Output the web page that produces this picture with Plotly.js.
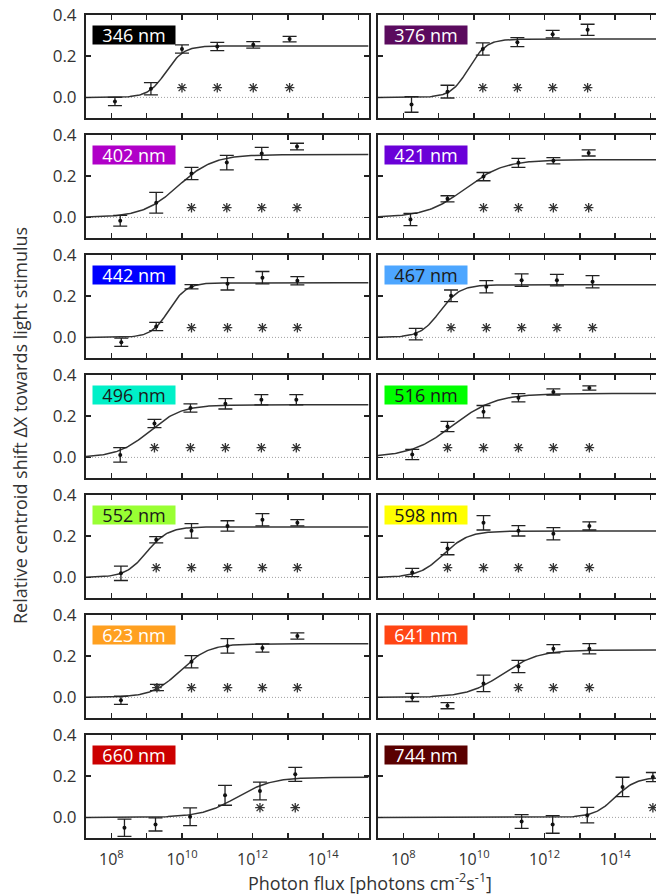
<!DOCTYPE html>
<html><head><meta charset="utf-8">
<script src="https://cdn.plot.ly/plotly-3.0.1.min.js"></script>
<style>
html,body{margin:0;padding:0;overflow:hidden;background:#fff;width:656px;height:895px}
#chart{width:670px;height:895px}
</style>
</head><body><div id="chart"></div>
<script>
// wavelengths (panel order: row-major, left then right)
const wavelengths = [346, 376, 402, 421, 442, 467, 496, 516, 552, 598, 623, 641, 660, 744];

// log10 photon flux of each measured point
const logFlux = [
  [8.10, 9.12, 10.00, 11.00, 12.02, 13.05],
  [8.23, 9.25, 10.25, 11.23, 12.23, 13.22],
  [8.25, 9.27, 10.27, 11.27, 12.26, 13.26],
  [8.20, 9.25, 10.27, 11.26, 12.25, 13.25],
  [8.28, 9.27, 10.27, 11.29, 12.28, 13.27],
  [8.35, 9.35, 10.35, 11.35, 12.35, 13.36],
  [8.25, 9.22, 10.24, 11.23, 12.25, 13.24],
  [8.25, 9.25, 10.27, 11.26, 12.25, 13.27],
  [8.27, 9.27, 10.27, 11.29, 12.28, 13.27],
  [8.25, 9.25, 10.27, 11.26, 12.25, 13.27],
  [8.27, 9.29, 10.27, 11.29, 12.28, 13.27],
  [8.25, 9.25, 10.27, 11.26, 12.25, 13.27],
  [8.37, 9.25, 10.23, 11.22, 12.21, 13.21],
  [11.35, 12.23, 13.21, 14.21, 15.07]
];
// relative centroid shift (mean)
const shift = [
  [-0.020, 0.042, 0.235, 0.247, 0.255, 0.283],
  [-0.034, 0.028, 0.235, 0.268, 0.307, 0.328],
  [-0.016, 0.071, 0.213, 0.266, 0.310, 0.344],
  [-0.010, 0.090, 0.198, 0.265, 0.275, 0.313],
  [-0.024, 0.053, 0.246, 0.260, 0.290, 0.275],
  [0.016, 0.202, 0.246, 0.278, 0.278, 0.270],
  [0.012, 0.165, 0.240, 0.260, 0.280, 0.280],
  [0.014, 0.150, 0.222, 0.290, 0.318, 0.337],
  [0.020, 0.183, 0.226, 0.250, 0.280, 0.265],
  [0.024, 0.140, 0.265, 0.226, 0.212, 0.250],
  [-0.014, 0.048, 0.173, 0.250, 0.240, 0.298],
  [0.000, -0.040, 0.068, 0.150, 0.236, 0.236],
  [-0.050, -0.034, 0.003, 0.107, 0.128, 0.209],
  [-0.020, -0.034, 0.011, 0.148, 0.196]
];
// error (half length of the error bar)
const sem = [
  [0.020, 0.030, 0.020, 0.020, 0.016, 0.013],
  [0.038, 0.031, 0.030, 0.022, 0.018, 0.027],
  [0.026, 0.050, 0.030, 0.035, 0.030, 0.016],
  [0.030, 0.015, 0.020, 0.022, 0.015, 0.015],
  [0.020, 0.020, 0.010, 0.030, 0.030, 0.020],
  [0.028, 0.028, 0.030, 0.030, 0.028, 0.030],
  [0.035, 0.020, 0.020, 0.025, 0.025, 0.025],
  [0.025, 0.025, 0.030, 0.020, 0.015, 0.010],
  [0.035, 0.015, 0.035, 0.025, 0.030, 0.015],
  [0.020, 0.030, 0.035, 0.025, 0.030, 0.020],
  [0.020, 0.015, 0.030, 0.035, 0.020, 0.015],
  [0.020, 0.015, 0.040, 0.030, 0.020, 0.025],
  [0.042, 0.032, 0.043, 0.048, 0.043, 0.034],
  [0.033, 0.043, 0.038, 0.047, 0.022]
];
// indices of points marked significant (*)
const signif = [
  [2,3,4,5],[2,3,4,5],[2,3,4,5],[2,3,4,5],[2,3,4,5],[1,2,3,4,5],[1,2,3,4,5],
  [1,2,3,4,5],[1,2,3,4,5],[1,2,3,4,5],[1,2,3,4,5],[3,4,5],[4,5],[4]
];
const starLevel = 0.047;
// fitted sigmoid parameters (plateau, log10 midpoint, width in decades)
const fitTop   = [0.250, 0.283, 0.305, 0.280, 0.265, 0.255, 0.255, 0.310, 0.245, 0.225, 0.260, 0.230, 0.195, 0.195];
const fitMid   = [9.55, 9.85, 9.89, 9.75, 9.63, 9.04, 9.08, 9.40, 9.00, 9.14, 9.95, 10.82, 11.55, 14.00];
const fitWidth = [0.25, 0.25, 0.50, 0.55, 0.25, 0.28, 0.45, 0.60, 0.30, 0.35, 0.40, 0.50, 0.50, 0.30];

// label styling
const labelBg = ['#000000','#5b0b5e','#b000c8','#6a00d8','#0000ff','#4da6ff','#00f0c8','#00ff00','#99ff33','#ffff00','#ffa020','#ff4513','#cc0000','#5a0000'];
const labelFg = ['#fff','#fff','#fff','#fff','#fff','#1a1a1a','#1a1a1a','#1a1a1a','#1a1a1a','#1a1a1a','#fff','#fff','#fff','#fff'];

const xTickExp = [8, 9, 10, 11, 12, 13, 14, 15];
const xTickVals = xTickExp.map(e => Math.pow(10, e));
const xTickText = xTickExp.map(e => e % 2 === 0 ? '10<sup>' + e + '</sup>' : '');
const yTickVals = [0, 0.2, 0.4];
const yTickText = ['0.0', '0.2', '0.4'];

const W = 670, H = 895;
const FONT = '"Open Sans", "DejaVu Sans", sans-serif';
const traces = [];
const layout = {
  width: W, height: H,
  margin: {l: 0, r: 0, t: 0, b: 0},
  paper_bgcolor: '#fff', plot_bgcolor: '#fff',
  showlegend: false,
  font: {family: FONT, color: '#333'},
  annotations: [], shapes: []
};

const xR = [7.28, 15.3];
for (let i = 0; i < wavelengths.length; i++) {
  const n = i + 1;
  const row = Math.floor(i / 2), col = i % 2;
  const left = col === 0 ? 86 : 378;
  const right = left + 283;
  const top = 15 + 120 * row, bottom = top + 103;
  const xa = 'x' + n, ya = 'y' + n;
  const xKey = 'xaxis' + (n === 1 ? '' : n), yKey = 'yaxis' + (n === 1 ? '' : n);
  layout[xKey] = {
    domain: [left / W, right / W], anchor: ya, type: 'log', range: xR,
    tickmode: 'array', tickvals: xTickVals, ticktext: xTickText,
    ticks: 'inside', ticklen: 5, tickwidth: 1.5, tickcolor: '#222',
    showline: true, linecolor: '#222', linewidth: 2, mirror: 'ticks',
    showgrid: false, zeroline: false,
    showticklabels: row === 6, tickfont: {size: 16, color: '#333', family: FONT},
    ticklabelstandoff: 6
  };
  layout[yKey] = {
    domain: [1 - bottom / H, 1 - top / H], anchor: xa, range: [-0.1, 0.4],
    tickmode: 'array', tickvals: yTickVals, ticktext: yTickText,
    ticks: 'inside', ticklen: 5, tickwidth: 1.5, tickcolor: '#222',
    showline: true, linecolor: '#222', linewidth: 2, mirror: 'ticks',
    showgrid: false, zeroline: false,
    showticklabels: col === 0, tickfont: {size: 17, color: '#333', family: FONT},
    ticklabelstandoff: 4
  };
  // dotted zero line
  layout.shapes.push({type: 'line', xref: xa + ' domain', yref: ya, x0: 0, x1: 1, y0: 0, y1: 0,
    line: {color: '#a0a0a0', width: 1, dash: '1px,2px'}, layer: 'below'});
  // fit curve
  const cx = [], cy = [];
  for (let t = xR[0]; t <= xR[1] + 1e-9; t += 0.04) {
    cx.push(Math.pow(10, t));
    cy.push(fitTop[i] / (1 + Math.exp(-(t - fitMid[i]) / fitWidth[i])));
  }
  traces.push({x: cx, y: cy, xaxis: xa, yaxis: ya, mode: 'lines', type: 'scatter',
    line: {color: '#333', width: 1.5}, hoverinfo: 'skip'});
  // data with error bars
  traces.push({x: logFlux[i].map(v => Math.pow(10, v)), y: shift[i], xaxis: xa, yaxis: ya,
    mode: 'markers', type: 'scatter', cliponaxis: false,
    marker: {color: '#111', size: 4},
    error_y: {type: 'data', array: sem[i], visible: true, color: '#222', thickness: 1.3, width: 7}});
  // significance stars
  traces.push({x: signif[i].map(k => Math.pow(10, logFlux[i][k])), y: signif[i].map(() => starLevel),
    xaxis: xa, yaxis: ya, mode: 'markers', type: 'scatter',
    marker: {symbol: 'asterisk-open', size: 8, color: '#333', line: {color: '#333', width: 1.3}}});
  // wavelength label
  layout.annotations.push({
    xref: xa + ' domain', yref: ya + ' domain', x: 0.021, y: 1 - 10 / 103,
    xanchor: 'left', yanchor: 'top', showarrow: false,
    text: wavelengths[i] + ' nm', bgcolor: labelBg[i], borderpad: 0,
    width: 82, height: 18, align: 'center', valign: 'middle',
    font: {size: 18, color: labelFg[i], family: FONT}
  });
}
layout.annotations.push({
  xref: 'paper', yref: 'paper', x: 370 / W, y: 1 - 882 / H, xanchor: 'center', yanchor: 'middle',
  showarrow: false, text: 'Photon flux [photons cm<sup>-2</sup>s<sup>-1</sup>]',
  font: {size: 18, color: '#333', family: FONT}
});
layout.annotations.push({
  xref: 'paper', yref: 'paper', x: 20 / W, y: 1 - 426 / H, xanchor: 'center', yanchor: 'middle',
  showarrow: false, textangle: -90, text: 'Relative centroid shift \u0394X towards light stimulus',
  font: {size: 18, color: '#333', family: FONT}
});

Plotly.newPlot('chart', traces, layout, {displayModeBar: false, staticPlot: true});
</script>
</body></html>
